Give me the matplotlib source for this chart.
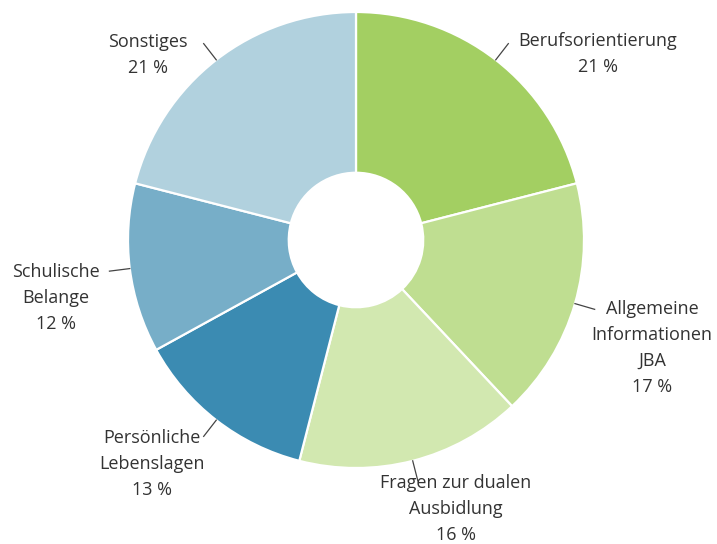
import matplotlib
matplotlib.use("Agg")
import matplotlib.pyplot as plt
import numpy as np

categories = ["Berufsorientierung", "Allgemeine\nInformationen\nJBA", "Fragen zur dualen\nAusbidlung",
              "Persönliche\nLebenslagen", "Schulische\nBelange", "Sonstiges"]
values = [21, 17, 16, 13, 12, 21]
colors = ["#a3cf62", "#bfde91", "#d2e8b0", "#3b8bb2", "#77aec8", "#b1d1de"]

# label anchor positions (pixel layout, y from top) for the centre of each text block
label_pos = [(598, 54), (652, 348), (456, 509), (152, 464), (56, 298), (148, 55)]

W, H = 717, 544
fig = plt.figure(figsize=(W / 100, H / 100), dpi=100)
ax = fig.add_axes([0, 0, 1, 1])
ax.set_xlim(0, W)
ax.set_ylim(0, H)
ax.set_aspect("equal")
ax.axis("off")

cx, cy, R = 356, H - 240, 228
wedges, _ = ax.pie(values, colors=colors, startangle=90, counterclock=False,
                   center=(cx, cy), radius=R,
                   wedgeprops=dict(width=R * 0.705, edgecolor="white", linewidth=1.6))
ax.set_xlim(0, W)
ax.set_ylim(0, H)

total = sum(values)
cum = 0
for i, v in enumerate(values):
    mid = 90 - (cum + v / 2) / total * 360
    cum += v
    a = np.deg2rad(mid)
    x0, y0 = cx + R * np.cos(a), cy + R * np.sin(a)
    x1, y1 = cx + R * 1.09 * np.cos(a), cy + R * 1.09 * np.sin(a)
    ax.plot([x0, x1], [y0, y1], color="#444444", lw=0.9)
    lx, ly = label_pos[i]
    ax.text(lx, H - ly, f"{categories[i]}\n{values[i]} %", ha="center", va="center",
            fontsize=13, color="#333333", family=["Open Sans", "DejaVu Sans"],
            linespacing=1.55, multialignment="center")

fig.savefig("out.png", dpi=100)
